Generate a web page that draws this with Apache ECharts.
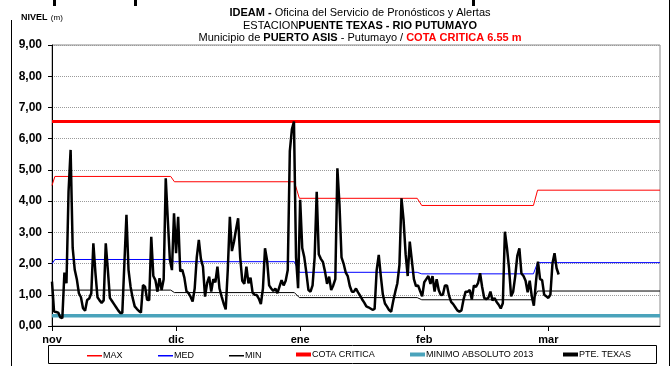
<!DOCTYPE html>
<html>
<head>
<meta charset="utf-8">
<script src="https://cdn.jsdelivr.net/npm/echarts@6/dist/echarts.min.js"></script>
<style>
  html, body { margin: 0; padding: 0; background: #fff; }
  #chart { width: 671px; height: 366px; }
</style>
</head>
<body>
<div id="chart"></div>
<script>
// Month labels along the time axis (one slot of 30 days per month)
const monthLabels = ['nov', 'dic', 'ene', 'feb', 'mar'];
const daysPerMonth = 30;
const axisEndDay = 147;

// Twice-daily readings (06:00 / 18:00) at Puente Texas, metres
const levelReadings = [
  1.42, 0.46, 0.45, 0.43, 0.28, 0.25, 1.71, 1.37, 4.30, 5.64,
  2.50, 1.80, 1.50, 1.05, 0.92, 0.57, 0.49, 0.83, 0.88, 1.05,
  2.65, 1.70, 0.92, 0.82, 0.74, 0.82, 2.65, 1.80, 0.90, 0.80,
  0.70, 0.60, 0.50, 0.42, 0.42, 2.00, 3.56, 1.80, 1.25, 0.90,
  0.63, 0.55, 0.48, 0.43, 1.31, 1.26, 0.84, 0.83, 2.86, 1.60,
  1.47, 1.10, 1.53, 1.15, 1.50, 4.73, 3.40, 2.12, 1.79, 3.61,
  2.33, 3.50, 1.75, 1.80, 1.55, 1.12, 1.05, 0.94, 0.78, 1.20,
  2.20, 2.76, 2.15, 1.90, 0.94, 1.37, 1.58, 1.10, 1.50, 1.40,
  1.90, 1.20, 0.95, 0.72, 0.53, 1.80, 3.50, 2.40, 2.70, 3.10,
  3.45, 2.20, 1.45, 1.35, 1.90, 1.37, 1.55, 1.07, 1.00, 0.99,
  0.88, 0.70, 1.20, 2.49, 2.10, 1.30, 1.20, 1.12, 1.20, 1.05,
  1.26, 1.47, 1.30, 1.45, 1.79, 5.60, 6.30, 6.55, 2.20, 1.21,
  4.04, 2.50, 2.20, 1.70, 1.15, 1.10, 1.30, 2.20, 4.30, 2.30,
  2.15, 2.05, 1.75, 1.35, 1.58, 1.15, 1.30, 1.50, 5.05, 3.90,
  2.20, 2.00, 1.72, 1.60, 1.28, 1.10, 1.10, 1.20, 1.08, 0.97,
  0.85, 0.75, 0.63, 0.60, 0.56, 0.52, 0.55, 1.79, 2.28, 1.60,
  1.00, 0.72, 0.62, 0.51, 0.46, 0.80, 1.10, 1.37, 1.95, 4.09,
  3.40, 2.30, 1.60, 2.70, 2.10, 1.50, 1.28, 1.30, 1.12, 0.95,
  1.40, 1.50, 1.60, 1.35, 1.60, 1.10, 1.50, 1.15, 0.99, 1.00,
  1.30, 1.30, 0.97, 0.77, 0.70, 0.60, 0.50, 0.46, 0.50, 0.85,
  1.10, 1.10, 1.15, 0.85, 1.30, 1.25, 1.37, 1.69, 1.25, 0.90,
  0.86, 0.90, 1.10, 0.82, 0.89, 0.77, 0.68, 0.56, 0.73, 3.02,
  2.50, 1.85, 0.95, 1.10, 1.60, 2.25, 2.49, 1.68, 1.60, 1.45,
  1.08, 1.45, 0.95, 0.65, 1.40, 2.06, 1.50, 1.47, 1.00, 0.95,
  0.90, 1.00, 2.00, 2.33, 1.85, 1.65
];

// Historical reference levels: [day, metres]
const maxLevel = [[0, 4.50], [0.7, 4.79], [28.7, 4.79], [29.6, 4.62], [58.6, 4.62], [59.8, 4.09],
                  [88.3, 4.09], [89.4, 3.86], [116.4, 3.86], [117.4, 4.35], [147, 4.35]];
const medLevel = [[0, 1.99], [0.7, 2.13], [28.7, 2.13], [29.6, 2.06], [58.6, 2.06], [59.8, 1.72],
                  [88.3, 1.72], [89.4, 1.67], [116.4, 1.67], [117.4, 2.03], [147, 2.03]];
const minLevel = [[0, 1.15], [28.7, 1.15], [29.6, 1.07], [58.6, 1.07], [59.8, 0.91],
                  [88.3, 0.91], [89.4, 0.84], [116.4, 0.84], [117.4, 1.12], [147, 1.12]];
const criticalLevel = 6.55;
const absoluteMin2013 = 0.33;

const yTicks = [0, 1, 2, 3, 4, 5, 6, 7, 8, 9];

const NARROW = "'Liberation Sans Narrow', 'Arial Narrow', 'Liberation Sans', Arial, sans-serif";
const SANS = "'Liberation Sans', Arial, sans-serif";

const chart = echarts.init(document.getElementById('chart'), null, { renderer: 'canvas' });

const readingsSeries = levelReadings.map((v, i) => [i / 2, v]);
const flat = (v) => [[0, v], [axisEndDay, v]];

function lineSeries(name, data, color, width, z) {
  return {
    name, type: 'line', data, showSymbol: false, symbol: 'none', z,
    lineStyle: { color, width }, itemStyle: { color, borderWidth: 0 },
    animation: false, silent: true
  };
}

// One legend block per entry so each sits at its own spot in the box
const legendItems = [
  { name: 'MAX', left: 87, h: 1.5, color: '#ff0000' },
  { name: 'MED', left: 158, h: 1.5, color: '#0000ff' },
  { name: 'MIN', left: 229, h: 1.5, color: '#000000' },
  { name: 'COTA CRITICA', left: 296, h: 4, color: '#ff0000' },
  { name: 'MINIMO ABSOLUTO 2013', left: 410, h: 4, color: '#4aa3bb' },
  { name: 'PTE. TEXAS', left: 563, h: 4, color: '#000000' }
];

const option = {
  backgroundColor: '#fff',
  animation: false,
  grid: { left: 52, right: 11, top: 45, bottom: 40, show: true, borderColor: '#8a8a8a', borderWidth: 1 },
  xAxis: {
    type: 'value', min: 0, max: axisEndDay, interval: daysPerMonth,
    axisLine: { show: true, onZero: false, lineStyle: { color: '#000', width: 1 } },
    axisTick: { show: true, length: 5, lineStyle: { color: '#000' } },
    splitLine: { show: false },
    axisLabel: {
      formatter: (v) => monthLabels[Math.round(v / daysPerMonth)] || '',
      fontFamily: NARROW, fontWeight: 'bold', fontSize: 11, color: '#000', margin: 8,
      showMaxLabel: false
    }
  },
  yAxis: {
    type: 'value', min: yTicks[0], max: yTicks[yTicks.length - 1], interval: 1,
    axisLine: { show: true, lineStyle: { color: '#000', width: 1 } },
    axisTick: { show: true, length: 4, lineStyle: { color: '#000' } },
    splitLine: { show: true, lineStyle: { color: '#9a9a9a', type: [1, 1], width: 1 } },
    axisLabel: {
      formatter: (v) => v.toFixed(2).replace('.', ','),
      fontFamily: NARROW, fontWeight: 'bold', fontSize: 12, color: '#000', margin: 10
    }
  },
  legend: legendItems.map((it) => ({
    data: [{ name: it.name, icon: 'rect', itemStyle: { color: it.color, borderWidth: 0, opacity: 1 } }],
    left: it.left, top: 356 - it.h / 2 - 4, itemWidth: 15, itemHeight: it.h,
    itemGap: 2, padding: 0,
    textStyle: { fontFamily: NARROW, fontSize: 9, color: '#000', padding: [0, 0, 0, -4] },
    selectedMode: false
  })),
  graphic: [
    // side rules of the chart frame
    { type: 'line', shape: { x1: 11.5, y1: 20, x2: 11.5, y2: 366 }, style: { stroke: '#000', lineWidth: 1 }, silent: true },
    { type: 'line', shape: { x1: 669.5, y1: 0, x2: 669.5, y2: 366 }, style: { stroke: '#000', lineWidth: 1 }, silent: true },
    // short rules along the top edge
    { type: 'rect', shape: { x: 53, y: 0, width: 3, height: 6 }, style: { fill: '#000' }, silent: true },
    { type: 'rect', shape: { x: 134, y: 0, width: 3, height: 6 }, style: { fill: '#000' }, silent: true },
    { type: 'rect', shape: { x: 472, y: 0, width: 3, height: 6 }, style: { fill: '#000' }, silent: true },
    // legend box
    { type: 'rect', shape: { x: 48.5, y: 345.5, width: 608, height: 18 }, style: { fill: null, stroke: '#000', lineWidth: 1 }, silent: true },
    {
      type: 'text', left: 21, top: 12,
      style: {
        text: '{b|NIVEL} {n|(m)}', rich: {
          b: { fontFamily: SANS, fontWeight: 'bold', fontSize: 9, fill: '#000' },
          n: { fontFamily: SANS, fontSize: 8, fill: '#000' }
        }
      }
    },
    {
      type: 'text', x: 360, y: 7,
      style: {
        align: 'center', verticalAlign: 'top',
        text: '{b|IDEAM -}{n| Oficina del Servicio de Pronósticos y Alertas}\n' +
              '{n|ESTACION}{b|PUENTE TEXAS - RIO PUTUMAYO}\n' +
              '{n|Municipio de }{b|PUERTO ASIS}{n| - Putumayo / }{r|COTA CRITICA 6.55 m}',
        lineHeight: 12.5,
        rich: {
          b: { fontFamily: NARROW, fontWeight: 'bold', fontSize: 11, fill: '#000', lineHeight: 12.5 },
          n: { fontFamily: NARROW, fontSize: 11, fill: '#000', lineHeight: 12.5 },
          r: { fontFamily: NARROW, fontWeight: 'bold', fontSize: 11, fill: '#ff0000', lineHeight: 12.5 }
        }
      }
    }
  ],
  series: [
    lineSeries('MAX', maxLevel, '#ff0000', 1, 2),
    lineSeries('MED', medLevel, '#0000ff', 1, 2),
    lineSeries('MIN', minLevel, '#000000', 1, 2),
    lineSeries('COTA CRITICA', flat(criticalLevel), '#ff0000', 3, 3),
    lineSeries('MINIMO ABSOLUTO 2013', flat(absoluteMin2013), '#4aa3bb', 3.5, 3),
    lineSeries('PTE. TEXAS', readingsSeries, '#000000', 2.5, 5)
  ]
};

chart.setOption(option);
</script>
</body>
</html>
